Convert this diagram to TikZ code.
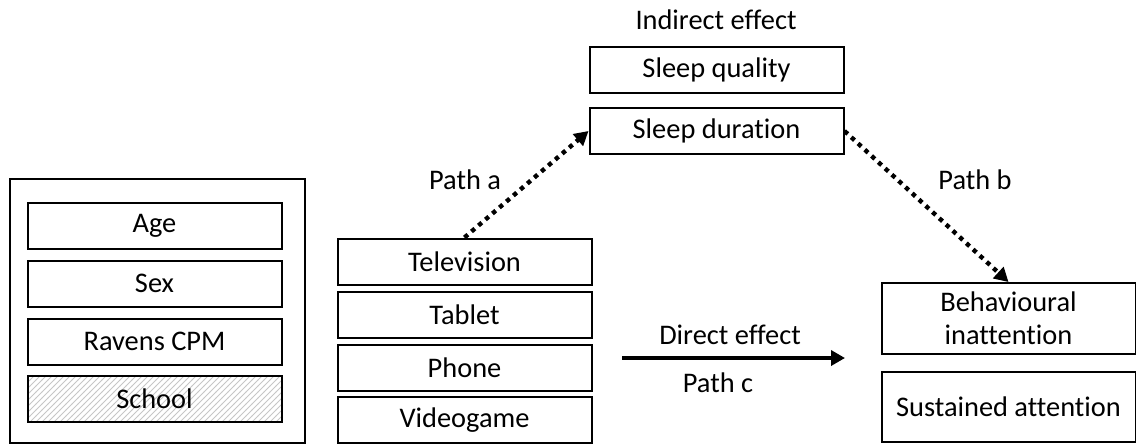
\documentclass[tikz,border=0pt]{standalone}
\usepackage{fontspec}
\setmainfont[Ligatures=NoCommon]{Carlito}
\usepackage{tikz}
\usetikzlibrary{patterns,calc,arrows.meta}

\tikzset{
  box/.style={draw,line width=1pt,minimum width=127pt,minimum height=23pt,inner sep=0pt,align=center},
  dotarrow/.style={line width=2.2pt,dash pattern=on 2.2pt off 2.4pt,-{Triangle[length=7pt,width=7.5pt]}},
  directarrow/.style={line width=2pt,-{Triangle[length=7pt,width=7.5pt]}}
}

\begin{document}
\begin{tikzpicture}[x=0.5pt,y=-0.5pt,font=\fontsize{14.2}{16.5}\selectfont]
  \useasboundingbox (0,0) rectangle (1136,446);
  % covariates
  \node[draw,line width=1pt,minimum width=147.5pt,minimum height=132pt,inner sep=0pt] (covbox) at (157.5,311) {};
  \node[box] (age) at (154.5,226) {Age};
  \node[box] (sex) at (154.5,283.5) {Sex};
  \node[box] (ravens) at (154.5,341.5) {Ravens CPM};
  \node[box,fill=gray!12,pattern={north east lines},pattern color=gray!45] (school) at (154.5,398.5) {};
  \node (schooltxt) at (school) {School};
  % exposures
  \node[box] (tv) at (464.5,261.5) {Television};
  \node[box] (tablet) at (464.5,315) {Tablet};
  \node[box] (phone) at (464.5,368) {Phone};
  \node[box] (game) at (464.5,420) {Videogame};
  % mediators
  \node (indirect) at (716,20) {Indirect effect};
  \node[box] (squal) at (716.5,70) {Sleep quality};
  \node[box] (sdur) at (716.5,131) {Sleep duration};
  % outcomes
  \node[box,minimum height=35.5pt] (beh) at (1008.5,318.5) {Behavioural\\inattention};
  \node[box,minimum height=35pt] (sust) at (1008.5,407) {Sustained attention};
  % paths
  \node (patha) at (465,180) {Path a};
  \node (pathb) at (975,180) {Path b};
  \node (direct) at (730,335) {Direct effect};
  \node (pathc) at (718,383) {Path c};
  \coordinate (cstart) at (622,358);
  \coordinate (cend) at (845,358);
  \draw[dotarrow] (tv.north) -- (sdur.west);
  \draw[dotarrow] (sdur.east) -- (beh.north);
  \draw[directarrow] (cstart) -- (cend);
\end{tikzpicture}
\end{document}
